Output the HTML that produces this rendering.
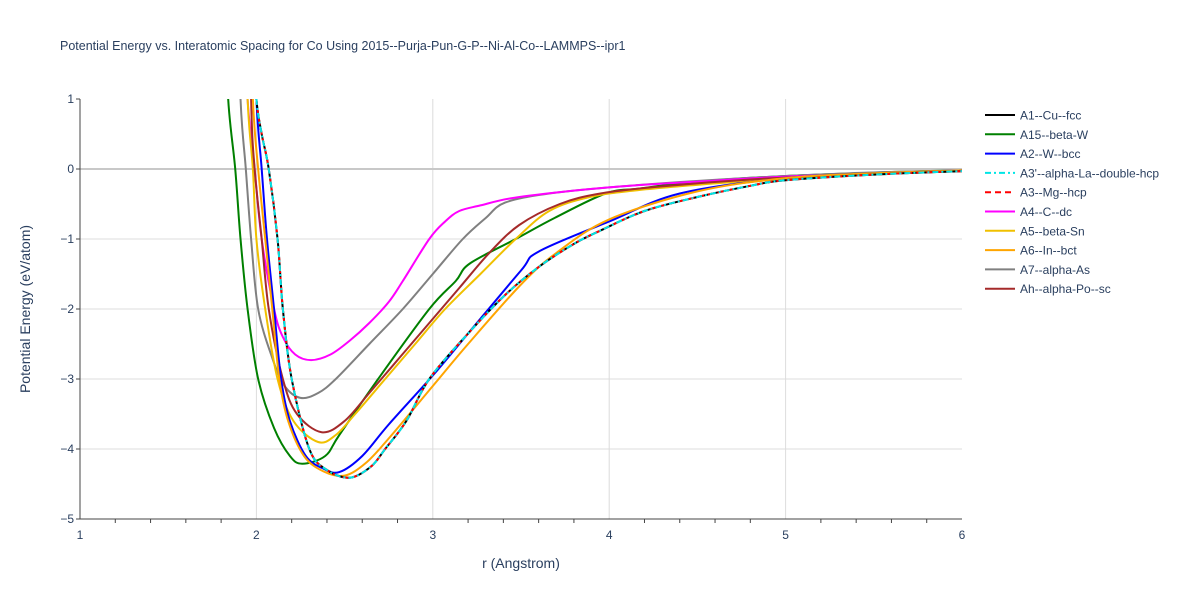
<!DOCTYPE html>
<html><head><meta charset="utf-8"><style>
body{margin:0;background:#fff;font-family:"Liberation Sans",sans-serif}
svg text{font-family:"Liberation Sans",sans-serif;fill:#2a3f5f}
</style></head><body>
<svg id="chart" width="1200" height="600">
<text x="60" y="50" font-size="12.5">Potential Energy vs. Interatomic Spacing for Co Using 2015--Purja-Pun-G-P--Ni-Al-Co--LAMMPS--ipr1</text>
<g id="grid"></g>
<g id="axes"></g>
<g id="series"></g>
<g id="legend"></g>
<text x="521" y="568" font-size="14" text-anchor="middle">r (Angstrom)</text>
<text transform="translate(30,309) rotate(-90)" font-size="14" text-anchor="middle">Potential Energy (eV/atom)</text>
</svg>
<script>
const xTicks=[1,2,3,4,5,6];
const yTicks=[1,0,-1,-2,-3,-4,-5];
const seriesNames=["A1--Cu--fcc","A15--beta-W","A2--W--bcc","A3'--alpha-La--double-hcp","A3--Mg--hcp","A4--C--dc","A5--beta-Sn","A6--In--bct","A7--alpha-As","Ah--alpha-Po--sc"];
const seriesColors=["#000000","#008000","#0000ff","#00e5e5","#ff0000","#ff00ff","#f0c000","#ffa500","#808080","#a52a2a"];
const seriesDash=["","","","6,3,2,3","6,4","","","","",""];
const fccR=[2.0,2.03,2.07,2.12,2.15,2.2,2.3,2.4,2.53,2.65,2.73,2.85,2.98,3.2,3.41,3.6,3.8,3.95,4.2,4.5,4.8,5.0,5.5,6.0];
const fccE=[1,0.5,0,-1,-2,-3,-4,-4.3,-4.41,-4.25,-4.0,-3.6,-3.0,-2.35,-1.8,-1.4,-1.07,-0.88,-0.6,-0.4,-0.24,-0.16,-0.08,-0.03];
const a15R=[1.84,1.88,1.91,1.95,2.01,2.1,2.19,2.26,2.39,2.47,2.69,2.98,3.13,3.21,3.47,3.69,3.98,4.17,4.5,5.0,5.65,6.0];
const a15E=[1,0,-1,-2,-3,-3.7,-4.1,-4.21,-4.1,-3.8,-3.0,-2.0,-1.6,-1.35,-1.0,-0.7,-0.35,-0.28,-0.18,-0.1,-0.04,-0.02];
const bccR=[2.0,2.03,2.06,2.1,2.14,2.19,2.28,2.38,2.47,2.6,2.75,3.0,3.2,3.5,3.6,4.0,4.4,5.0,5.5,6.0];
const bccE=[1,0,-1,-2,-3,-3.6,-4.1,-4.28,-4.33,-4.1,-3.65,-2.95,-2.35,-1.45,-1.18,-0.75,-0.35,-0.13,-0.06,-0.02];
const dcR=[1.95,1.99,2.03,2.1,2.15,2.22,2.31,2.42,2.53,2.64,2.75,2.83,2.98,3.07,3.15,3.27,3.44,3.72,4.06,4.5,5.08,6.0];
const dcE=[1,0,-1,-2,-2.4,-2.65,-2.73,-2.65,-2.45,-2.2,-1.9,-1.6,-1.0,-0.75,-0.6,-0.52,-0.42,-0.33,-0.25,-0.18,-0.1,-0.03];
const snR=[1.95,1.98,2.0,2.05,2.12,2.21,2.35,2.45,2.56,2.73,2.9,3.07,3.27,3.47,3.66,3.89,4.17,4.63,5.2,6.0];
const snE=[1,0,-1,-2,-3,-3.6,-3.9,-3.8,-3.5,-3.0,-2.5,-2.0,-1.5,-1.0,-0.6,-0.4,-0.3,-0.2,-0.1,-0.03];
const bctR=[1.98,2.01,2.05,2.09,2.13,2.18,2.27,2.38,2.5,2.62,2.75,3.0,3.2,3.5,3.7,4.0,4.5,5.0,5.5,6.0];
const bctE=[1,0,-1,-2,-3,-3.6,-4.1,-4.32,-4.38,-4.2,-3.85,-3.1,-2.5,-1.65,-1.2,-0.72,-0.32,-0.13,-0.06,-0.02];
const asR=[1.91,1.94,1.97,2.01,2.09,2.16,2.25,2.35,2.45,2.64,2.83,3.0,3.17,3.3,3.41,3.66,4.06,4.63,5.37,6.0];
const asE=[1,0,-1,-2,-2.7,-3.1,-3.27,-3.2,-3.0,-2.5,-2.0,-1.5,-1.0,-0.7,-0.48,-0.35,-0.25,-0.15,-0.06,-0.02];
const scR=[1.97,1.99,2.03,2.07,2.15,2.23,2.37,2.5,2.64,2.81,2.98,3.15,3.32,3.49,3.72,3.95,4.29,4.8,5.37,6.0];
const scE=[1,0,-1,-2,-3,-3.5,-3.76,-3.6,-3.2,-2.7,-2.2,-1.7,-1.2,-0.8,-0.5,-0.35,-0.25,-0.15,-0.08,-0.02];
const seriesR=[fccR,a15R,bccR,fccR,fccR,dcR,snR,bctR,asR,scR];
const seriesE=[fccE,a15E,bccE,fccE,fccE,dcE,snE,bctE,asE,scE];
const NS="http://www.w3.org/2000/svg";
const X0=80,X1=962,Y0=99,Y1=519;
function xs(r){return X0+(r-1)/(6-1)*(X1-X0);}
function ys(e){return Y0+(1-e)/(1+5)*(Y1-Y0);}
function mk(tag,attrs,parent){const el=document.createElementNS(NS,tag);for(const k in attrs)el.setAttribute(k,attrs[k]);parent.appendChild(el);return el;}
const grid=document.getElementById('grid'),axes=document.getElementById('axes'),ser=document.getElementById('series'),leg=document.getElementById('legend');
xTicks.forEach(t=>{
 if(t>1&&t<6){const g=mk('line',{x1:xs(t),x2:xs(t),y1:Y0,y2:Y1,stroke:'#dcdcdc','stroke-width':1},grid);
 
 }
 const tx=mk('text',{x:xs(t),y:Y1+20,'font-size':12,'text-anchor':'middle'},axes);tx.textContent=t;
 
 
});
for(let t=1.2;t<6;t+=0.2){if(Math.abs(t-Math.round(t))<0.01)continue;
 const m=mk('line',{x1:xs(t),x2:xs(t),y1:Y1,y2:Y1+4,stroke:'#444'},axes);
 
 }
yTicks.forEach(t=>{
 if(t>-5&&t<1){const g=mk('line',{x1:X0,x2:X1,y1:ys(t),y2:ys(t),stroke:t===0?'#c8c8c8':'#dcdcdc','stroke-width':t===0?2:1},grid);
 
 }
 const tx=mk('text',{x:X0-6,y:ys(t)+4,'font-size':12,'text-anchor':'end'},axes);tx.textContent=(t<0?'\u2212'+(-t):t);
 
 
 const tk=mk('line',{x1:X0-4,x2:X0,y1:ys(t),y2:ys(t),stroke:'#444'},axes);
 
 
});
const xa=mk('line',{x1:X0,x2:X1,y1:Y1,y2:Y1,stroke:'#444'},axes);


const ya=mk('line',{x1:X0,x2:X0,y1:Y0,y2:Y1,stroke:'#444'},axes);


mk('clipPath',{id:'clip'},document.getElementById('chart')).appendChild(document.createElementNS(NS,'rect'));
const cr=document.querySelector('#clip rect');cr.setAttribute('x',X0);cr.setAttribute('y',Y0);cr.setAttribute('width',X1-X0);cr.setAttribute('height',Y1-Y0);
const order=[1,8,5,6,9,2,7,0,4,3];
order.forEach(i=>{
 const R=seriesR[i],E=seriesE[i];
 let pts=[];
 if(R[0]>1.7){const r0=R[0]-0.02,e0=E[0]+ (E[0]-E[1])/(R[1]-R[0])*0.02*3;pts.push([xs(r0),ys(e0)]);}
 for(let k=0;k<R.length;k++)pts.push([xs(R[k]),ys(E[k])]);
 let d='M'+pts[0][0]+','+pts[0][1];
 for(let k=0;k<pts.length-1;k++){const p0=pts[Math.max(0,k-1)],p1=pts[k],p2=pts[k+1],p3=pts[Math.min(pts.length-1,k+2)];
  const c1=[p1[0]+(p2[0]-p0[0])/6,p1[1]+(p2[1]-p0[1])/6],c2=[p2[0]-(p3[0]-p1[0])/6,p2[1]-(p3[1]-p1[1])/6];
  d+=' C'+c1[0]+','+c1[1]+' '+c2[0]+','+c2[1]+' '+p2[0]+','+p2[1];}
 const p=mk('path',{d:d,fill:'none',stroke:seriesColors[i],'stroke-width':2,'stroke-dasharray':seriesDash[i],'clip-path':'url(#clip)'},ser);
 
 
});
seriesNames.forEach((n,i)=>{
 const y=115+i*19.3;
 const g=mk('g',{},leg);
 
 
 mk('line',{x1:985,x2:1015,y1:y,y2:y,stroke:seriesColors[i],'stroke-width':2,'stroke-dasharray':seriesDash[i]},g);
 const t=mk('text',{x:1020,y:y+4.5,'font-size':12},g);t.textContent=n;
});
</script>
</body></html>
